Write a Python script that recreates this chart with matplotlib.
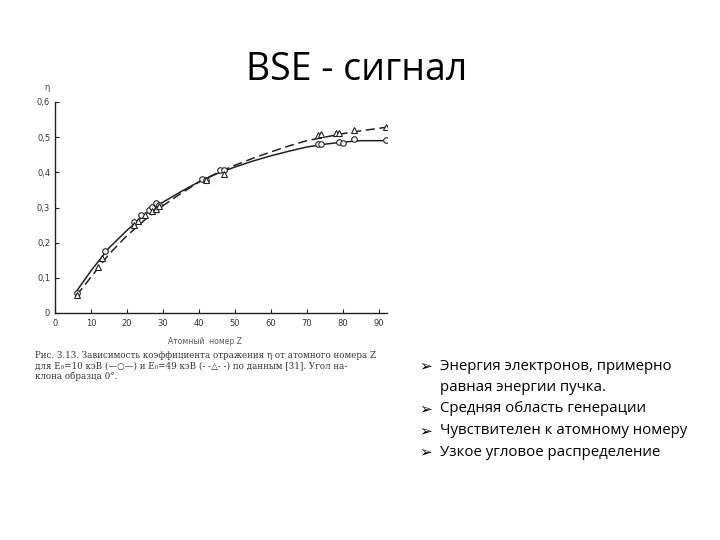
import matplotlib.pyplot as plt

# atomic number Z and backscatter coefficient eta
curve_z = [6, 10, 15, 20, 25, 30, 35, 40, 45, 50, 55, 60, 65, 70, 75, 80, 85, 92]
curve_10kev = [0.062, 0.12, 0.185, 0.235, 0.28, 0.315, 0.345, 0.373, 0.396, 0.415,
               0.432, 0.447, 0.46, 0.472, 0.48, 0.486, 0.49, 0.49]
curve_49kev = [0.05, 0.102, 0.167, 0.22, 0.265, 0.305, 0.34, 0.372, 0.398, 0.42,
               0.44, 0.458, 0.475, 0.49, 0.5, 0.51, 0.518, 0.528]

pts_z_10 = [6, 14, 22, 24, 26, 27, 28, 29, 41, 42, 46, 47, 73, 74, 79, 80, 83, 92]
pts_eta_10 = [0.057, 0.175, 0.26, 0.279, 0.293, 0.302, 0.312, 0.307, 0.38, 0.378,
              0.406, 0.406, 0.48, 0.48, 0.487, 0.484, 0.496, 0.491]
pts_z_49 = [6, 12, 13, 22, 23, 25, 27, 28, 29, 42, 47, 73, 74, 78, 79, 83, 92]
pts_eta_49 = [0.05, 0.13, 0.155, 0.25, 0.262, 0.28, 0.29, 0.295, 0.305, 0.378,
              0.395, 0.505, 0.508, 0.512, 0.512, 0.52, 0.53]

x_ticks = [0, 10, 20, 30, 40, 50, 60, 70, 80, 90]
y_ticks = [0, 0.1, 0.2, 0.3, 0.4, 0.5, 0.6]
y_tick_labels = ['0', '0,1', '0,2', '0,3', '0,4', '0,5', '0,6']

title = 'BSE - сигнал'
bullet_lines = ['Энергия электронов, примерно',
                'равная энергии пучка.',
                'Средняя область генерации',
                'Чувствителен к атомному номеру',
                'Узкое угловое распределение']
bullet_marks = [True, False, True, True, True]
caption = ['Рис. 3.13. Зависимость коэффициента отражения η от атомного номера Z',
           'для E₀=10 кэВ (—○—) и E₀=49 кэВ (- -△- -) по данным [31]. Угол на-',
           'клона образца 0°.']

W, H = 720, 540
fig = plt.figure(figsize=(7.2, 5.4), dpi=100)


def fx(px):
    return px / W


def fy(py):
    return 1 - py / H


ink = '#222222'
ax = fig.add_axes([fx(55), fy(313), (387 - 55) / W, (313 - 102) / H])
ax.plot(curve_z, curve_10kev, '-', color=ink, lw=1.1)
ax.plot(curve_z, curve_49kev, '--', color=ink, lw=1.1, dashes=(6, 3))
ax.plot(pts_z_10, pts_eta_10, 'o', mfc='white', mec=ink, ms=4, mew=0.8)
ax.plot(pts_z_49, pts_eta_49, '^', mfc='white', mec=ink, ms=4, mew=0.8)
ax.set_xlim(0, 92.3)
ax.set_ylim(0, 0.6)
ax.set_xticks(x_ticks)
ax.set_yticks(y_ticks)
ax.set_yticklabels(y_tick_labels)
for s in ['top', 'right']:
    ax.spines[s].set_visible(False)
for s in ['left', 'bottom']:
    ax.spines[s].set_color(ink)
    ax.spines[s].set_linewidth(1.0)
ax.tick_params(direction='in', length=3, labelsize=6, colors=ink,
               labelcolor='#333333')
ax.tick_params(axis='x', pad=4)
fig.text(fx(47), fy(88), 'η', fontsize=6, color='#444444', ha='center', va='center')
fig.text(fx(205), fy(341), 'Атомный  номер Z', fontsize=5.5, color='#555555',
         ha='center', va='center')

# figure caption from the scanned book page
for i, line in enumerate(caption):
    fig.text(fx(35), fy(356 + i * 10), line, fontsize=6.3, color='#333333',
             family='DejaVu Serif', ha='left', va='center')

fig.text(fx(357), fy(70), title, fontsize=27, color='black',
         family=['Open Sans', 'DejaVu Sans'], ha='center', va='center')

# bullet list on the right
for i, (txt, mark) in enumerate(zip(bullet_lines, bullet_marks)):
    y = 366 + i * 21.5
    if mark:
        fig.text(fx(426), fy(y), '➢', fontsize=11, color='black',
                 family='DejaVu Sans', ha='center', va='center')
    fig.text(fx(440), fy(y), txt, fontsize=10.8, color='black',
             family=['Open Sans', 'DejaVu Sans'], ha='left', va='center')

fig.savefig('out.png', dpi=100)
